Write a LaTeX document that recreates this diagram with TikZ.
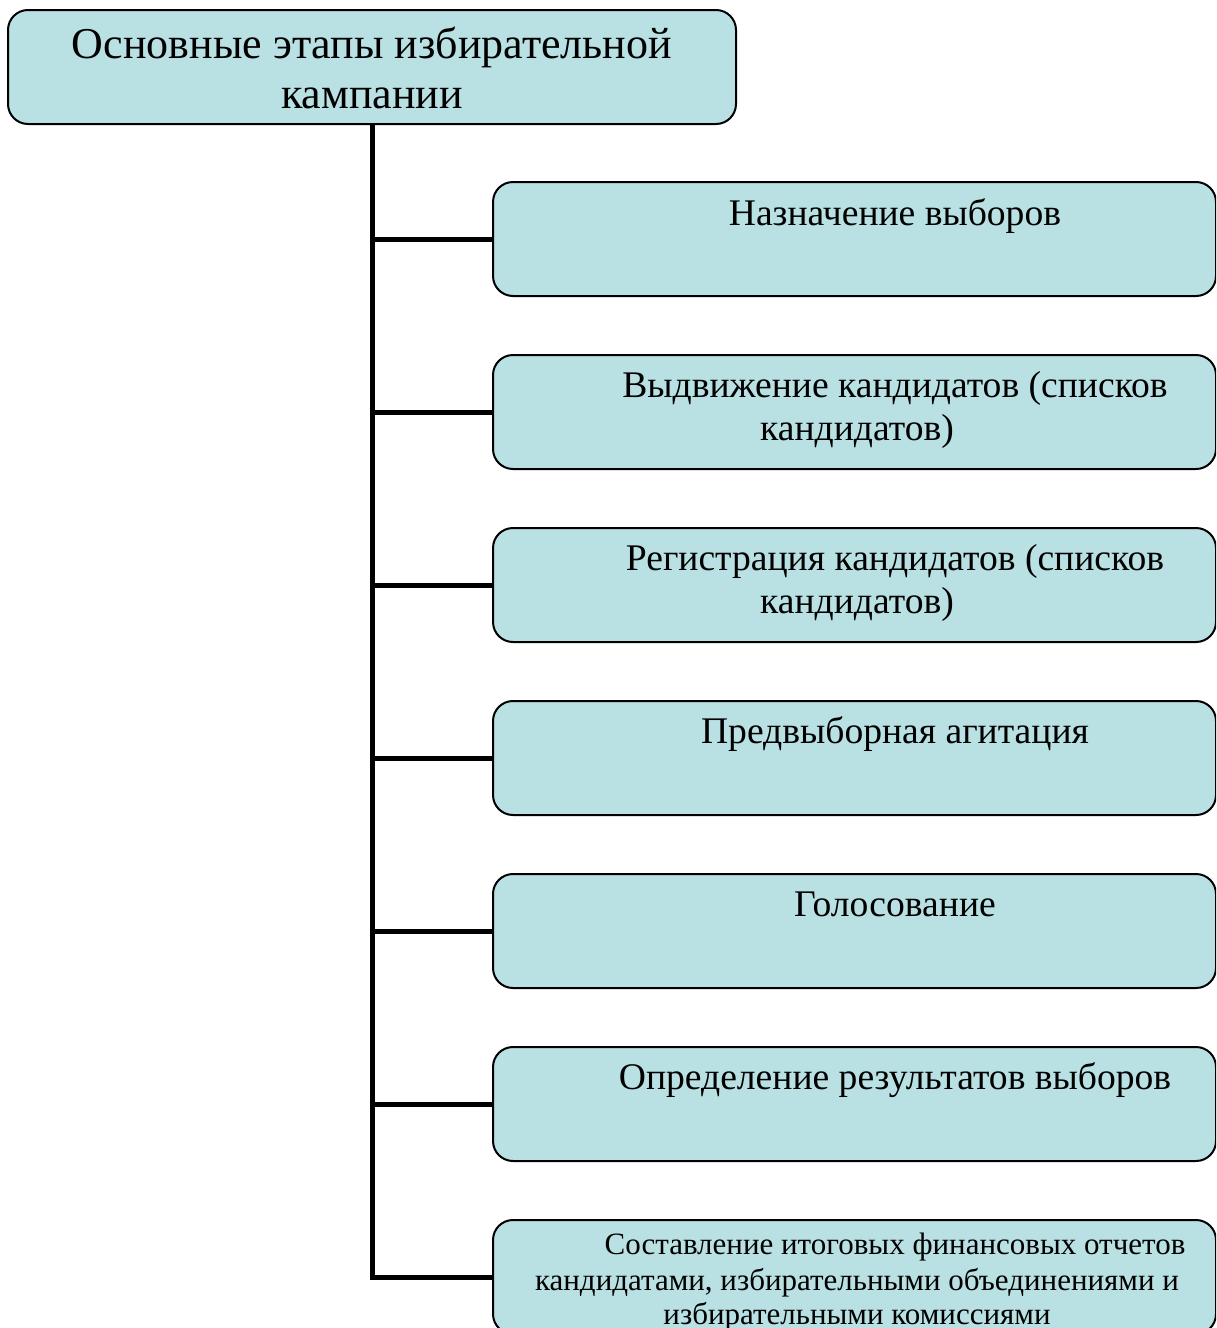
\documentclass[tikz,border=0pt]{standalone}
\usepackage{fontspec}
\setmainfont{Liberation Serif}
\definecolor{boxfill}{HTML}{B9E0E3}
\begin{document}
\begin{tikzpicture}[x=1pt,y=-1pt,
  stagebox/.style={draw=black, line width=2pt, fill=boxfill, rounded corners=20pt,
    minimum width=723pt, minimum height=114pt, inner sep=0pt, outer sep=0pt, anchor=north west},
  titlebox/.style={stagebox, minimum width=728pt},
  titletext/.style={anchor=base, inner sep=0pt, font=\fontsize{44}{50}\selectfont},
  stagetext/.style={anchor=base, inner sep=0pt, font=\fontsize{37.6}{43}\selectfont},
  smalltext/.style={anchor=base, inner sep=0pt, font=\fontsize{31}{36}\selectfont},
  trunk/.style={line width=5pt, line join=miter, draw=black}
]
\clip (0,0) rectangle (1216,1328);
\fill[white] (0,0) rectangle (1216,1328);

% title
\node[titlebox] (title) at (8,10) {};
\node[titletext] (title1) at (372,58) {Основные этапы избирательной};
\node[titletext] (title2) at (372,108) {кампании};

% stages
\node[stagebox] (b1) at (493,182) {};
\node[stagebox] (b2) at (493,355) {};
\node[stagebox] (b3) at (493,528) {};
\node[stagebox] (b4) at (493,701) {};
\node[stagebox] (b5) at (493,874) {};
\node[stagebox] (b6) at (493,1047) {};
\node[stagebox] (b7) at (493,1220) {};

\node[stagetext] (t1) at (895,225) {Назначение выборов};
\node[stagetext] (t2a) at (895,397) {Выдвижение кандидатов (списков};
\node[stagetext] (t2b) at (857,440) {кандидатов)};
\node[stagetext] (t3a) at (895,570) {Регистрация кандидатов (списков};
\node[stagetext] (t3b) at (857,613) {кандидатов)};
\node[stagetext] (t4) at (895,743) {Предвыборная агитация};
\node[stagetext] (t5) at (895,916) {Голосование};
\node[stagetext] (t6) at (895,1089) {Определение результатов выборов};
\node[smalltext] (t7a) at (895,1254) {Составление итоговых финансовых отчетов};
\node[smalltext] (t7b) at (857,1290) {кандидатами, избирательными объединениями и};
\node[smalltext] (t7c) at (857,1324) {избирательными комиссиями};

% connectors
\draw[trunk] (title.south) -- (title.south |- b7.west) -- (b7.west);
\foreach \b in {b1,b2,b3,b4,b5,b6}{
  \draw[trunk] (title.south |- \b.west) -- (\b.west);
}
\end{tikzpicture}
\end{document}
